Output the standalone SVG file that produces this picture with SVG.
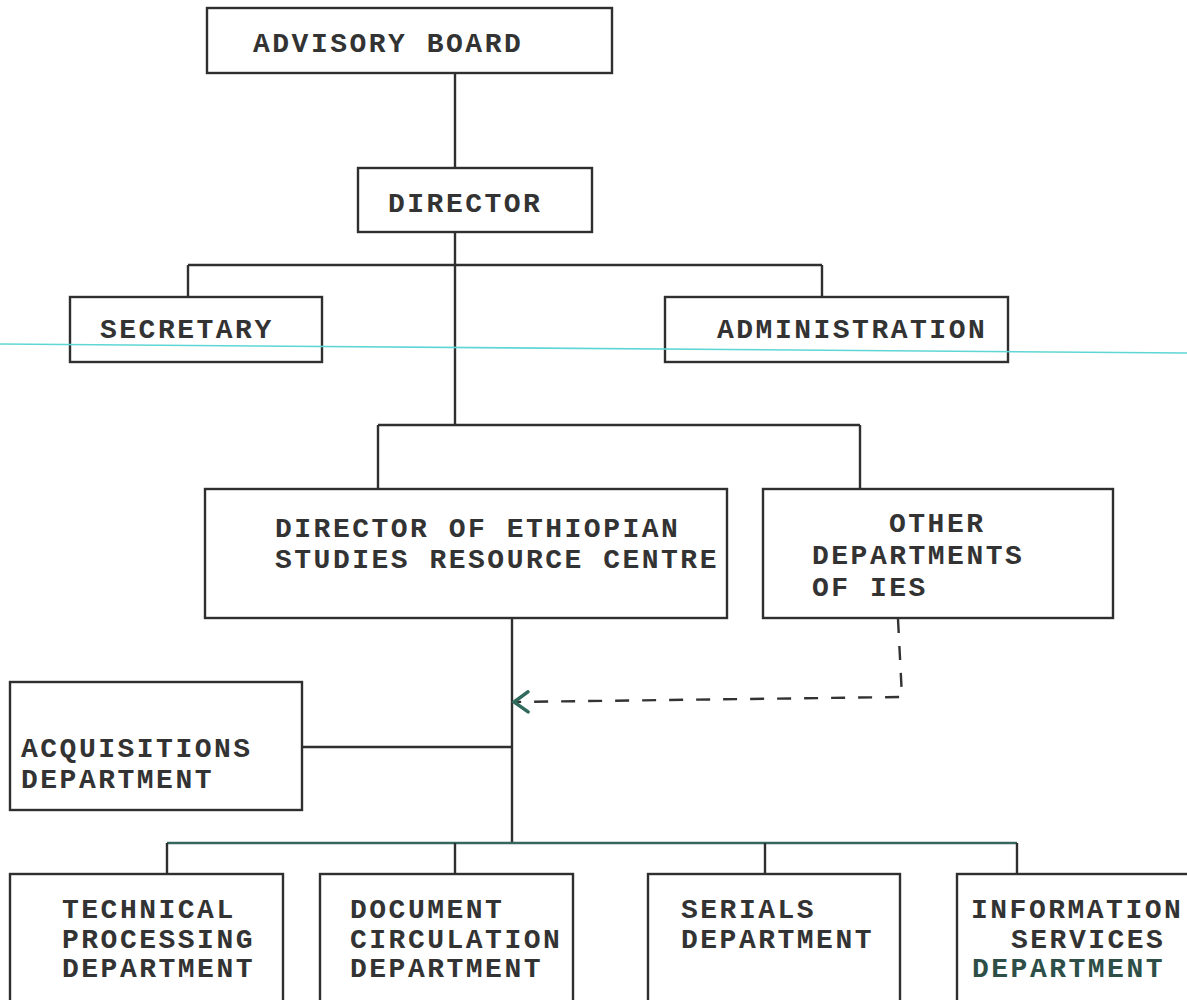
<svg xmlns="http://www.w3.org/2000/svg" width="1187" height="1000" viewBox="0 0 1187 1000">
<defs>
<style>
.box{fill:#fff;stroke:#2f2f2f;stroke-width:2.4}
.t{font-family:"Liberation Mono","DejaVu Sans Mono",monospace;font-weight:bold;font-size:28px;letter-spacing:2.5px;fill:#333}
.ln{fill:none;stroke:#2f2f2f;stroke-width:2.4}
.dash{fill:none;stroke:#333;stroke-width:2.4;stroke-dasharray:14 13}
</style>
<marker id="arr" viewBox="0 0 20 24" refX="17" refY="12" markerWidth="20" markerHeight="24" markerUnits="userSpaceOnUse" orient="auto">
<path d="M3 2 L17 12 L3 22" fill="none" stroke="#2f6a5c" stroke-width="3.5" stroke-linecap="round"/>
</marker>
</defs>
<rect width="1187" height="1000" fill="#fff"/>
<g id="connectors">
<path class="ln" d="M455 73 V168"/>
<path class="ln" d="M455 232 V425"/>
<path class="ln" d="M188 265 H822 M188 265 V297 M822 265 V297"/>
<path class="ln" d="M378 425 H860 M378 425 V489 M860 425 V489"/>
<path class="ln" d="M512 618 V843"/>
<path class="ln" d="M302 747 H512"/>
<path class="ln" d="M167 843 H1017" style="stroke:#35675e"/>
<path class="ln" d="M167 843 V874 M455 843 V874 M765 843 V874 M1017 843 V874"/>
<path class="dash" d="M898 619 L902 697 L514 702" marker-end="url(#arr)"/>
</g>
<g id="advisory-board"><rect class="box" x="207" y="8" width="405" height="65"/><text class="t" x="253" y="52">ADVISORY BOARD</text></g>
<g id="director"><rect class="box" x="358" y="168" width="234" height="64"/><text class="t" x="388" y="212">DIRECTOR</text></g>
<g id="secretary"><rect class="box" x="70" y="297" width="252" height="65"/><text class="t" x="100" y="338">SECRETARY</text></g>
<g id="administration"><rect class="box" x="665" y="297" width="343" height="65"/><text class="t" x="717" y="338">ADMINISTRATION</text></g>
<g id="director-esrc"><rect class="box" x="205" y="489" width="522" height="129"/><text class="t" x="275" y="537">DIRECTOR OF ETHIOPIAN</text><text class="t" x="275" y="568">STUDIES RESOURCE CENTRE</text></g>
<g id="other-departments"><rect class="box" x="763" y="489" width="350" height="129"/><text class="t" x="889" y="532">OTHER</text><text class="t" x="812" y="564">DEPARTMENTS</text><text class="t" x="812" y="596">OF IES</text></g>
<g id="acquisitions"><rect class="box" x="10" y="682" width="292" height="128"/><text class="t" x="21" y="757">ACQUISITIONS</text><text class="t" x="21" y="788">DEPARTMENT</text></g>
<g id="technical-processing"><rect class="box" x="10" y="874" width="273" height="140"/><text class="t" x="62" y="918">TECHNICAL</text><text class="t" x="62" y="948">PROCESSING</text><text class="t" x="62" y="977">DEPARTMENT</text></g>
<g id="document-circulation"><rect class="box" x="320" y="874" width="253" height="140"/><text class="t" x="350" y="918">DOCUMENT</text><text class="t" x="350" y="948">CIRCULATION</text><text class="t" x="350" y="977">DEPARTMENT</text></g>
<g id="serials"><rect class="box" x="648" y="874" width="252" height="140"/><text class="t" x="681" y="918">SERIALS</text><text class="t" x="681" y="948">DEPARTMENT</text></g>
<g id="information-services"><rect class="box" x="957" y="874" width="250" height="140"/><text class="t" x="971" y="918">INFORMATION</text><text class="t" x="1011" y="948">SERVICES</text><text class="t" x="972" y="977" style="fill:#2d4f48">DEPARTMENT</text></g>
<line x1="0" y1="344" x2="1187" y2="353" stroke="#5fd6d6" stroke-width="1.6"/>
</svg>
